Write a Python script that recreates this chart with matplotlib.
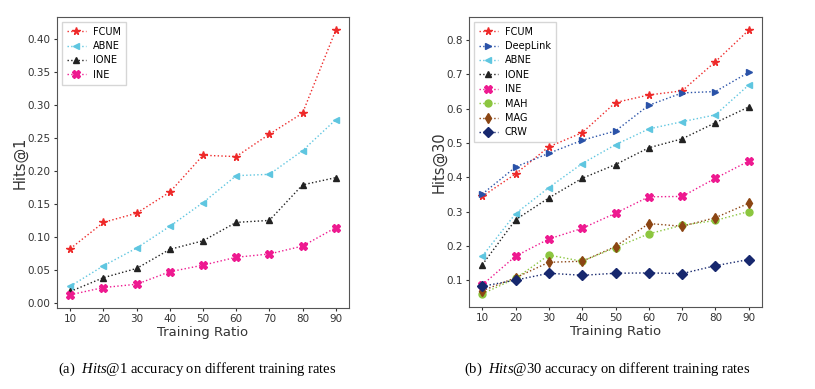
import matplotlib
matplotlib.use("Agg")
import matplotlib.pyplot as plt

plt.rcParams["mathtext.fontset"] = "custom"
plt.rcParams["mathtext.rm"] = "Liberation Serif"
plt.rcParams["mathtext.it"] = "Liberation Serif:italic"

ratios = [10, 20, 30, 40, 50, 60, 70, 80, 90]

# Hits@1 (left panel)
h1_fcum = [0.082, 0.122, 0.136, 0.168, 0.224, 0.222, 0.256, 0.288, 0.414]
h1_abne = [0.025, 0.056, 0.083, 0.116, 0.152, 0.193, 0.195, 0.231, 0.278]
h1_ione = [0.017, 0.038, 0.052, 0.081, 0.094, 0.122, 0.125, 0.179, 0.190]
h1_ine = [0.012, 0.023, 0.028, 0.047, 0.057, 0.069, 0.074, 0.086, 0.114]

# Hits@30 (right panel)
h30_fcum = [0.344, 0.410, 0.489, 0.530, 0.618, 0.640, 0.652, 0.737, 0.829]
h30_deeplink = [0.351, 0.430, 0.470, 0.508, 0.535, 0.610, 0.646, 0.650, 0.706]
h30_abne = [0.170, 0.294, 0.370, 0.440, 0.495, 0.541, 0.562, 0.582, 0.669]
h30_ione = [0.145, 0.276, 0.340, 0.397, 0.437, 0.486, 0.512, 0.559, 0.605]
h30_ine = [0.086, 0.170, 0.220, 0.251, 0.295, 0.343, 0.344, 0.397, 0.447]
h30_mah = [0.060, 0.105, 0.173, 0.155, 0.195, 0.235, 0.260, 0.274, 0.300]
h30_mag = [0.069, 0.107, 0.152, 0.155, 0.198, 0.265, 0.257, 0.282, 0.324]
h30_crw = [0.082, 0.100, 0.120, 0.114, 0.120, 0.121, 0.119, 0.142, 0.160]

styles = {
    "FCUM": ("#ee2a2a", "*", 5.5),
    "DeepLink": ("#2a52a8", ">", 5),
    "ABNE": ("#5fc6e0", "<", 5),
    "IONE": ("#222222", "^", 5),
    "INE": ("#ee1a90", "X", 5.5),
    "MAH": ("#8cc63f", "o", 5),
    "MAG": ("#8b4513", "d", 5.5),
    "CRW": ("#17286e", "D", 5),
}

fig = plt.figure(figsize=(8.15, 3.89), dpi=100)
ax1 = fig.add_axes([57 / 815, 1 - 308 / 389, 292 / 815, 291 / 389])
ax2 = fig.add_axes([469 / 815, 1 - 307 / 389, 293 / 815, 290 / 389])


def draw(ax, series, ylabel, fmt):
    for name, vals in series:
        c, m, ms = styles[name]
        ax.plot(ratios, vals, linestyle=":", color=c, marker=m, markersize=ms,
                linewidth=1.0, label=name)
    ax.set_xticks(ratios)
    ax.set_xlabel("Training Ratio", fontsize=9.5, color="#333333", labelpad=1)
    ax.set_ylabel(ylabel, fontsize=10.5, color="#333333", labelpad=0)
    ax.yaxis.set_major_formatter(plt.FormatStrFormatter(fmt))
    ax.tick_params(labelsize=7.5, colors="#333333", length=2.5, pad=2)
    for sp in ax.spines.values():
        sp.set_color("#555555")
    leg = ax.legend(loc="upper left", fontsize=7, handlelength=2.0,
                    handletextpad=0.7, labelspacing=0.45, borderpad=0.5,
                    fancybox=False)
    leg.get_frame().set_edgecolor("#cccccc")


draw(ax1, [("FCUM", h1_fcum), ("ABNE", h1_abne), ("IONE", h1_ione),
           ("INE", h1_ine)], "Hits@1", "%.2f")
ax1.set_yticks([0.0, 0.05, 0.10, 0.15, 0.20, 0.25, 0.30, 0.35, 0.40])

draw(ax2, [("FCUM", h30_fcum), ("DeepLink", h30_deeplink), ("ABNE", h30_abne),
           ("IONE", h30_ione), ("INE", h30_ine), ("MAH", h30_mah),
           ("MAG", h30_mag), ("CRW", h30_crw)], "Hits@30", "%.1f")
ax2.set_yticks([0.1, 0.2, 0.3, 0.4, 0.5, 0.6, 0.7, 0.8])

cap = dict(fontsize=10.5, family="Liberation Serif", ha="center", va="center")
fig.text(197 / 815, 1 - 369 / 389, r"(a)  $\it{Hits}$@1 accuracy on different training rates", **cap)
fig.text(607 / 815, 1 - 369 / 389, r"(b)  $\it{Hits}$@30 accuracy on different training rates", **cap)

fig.savefig("out.png", dpi=100)
